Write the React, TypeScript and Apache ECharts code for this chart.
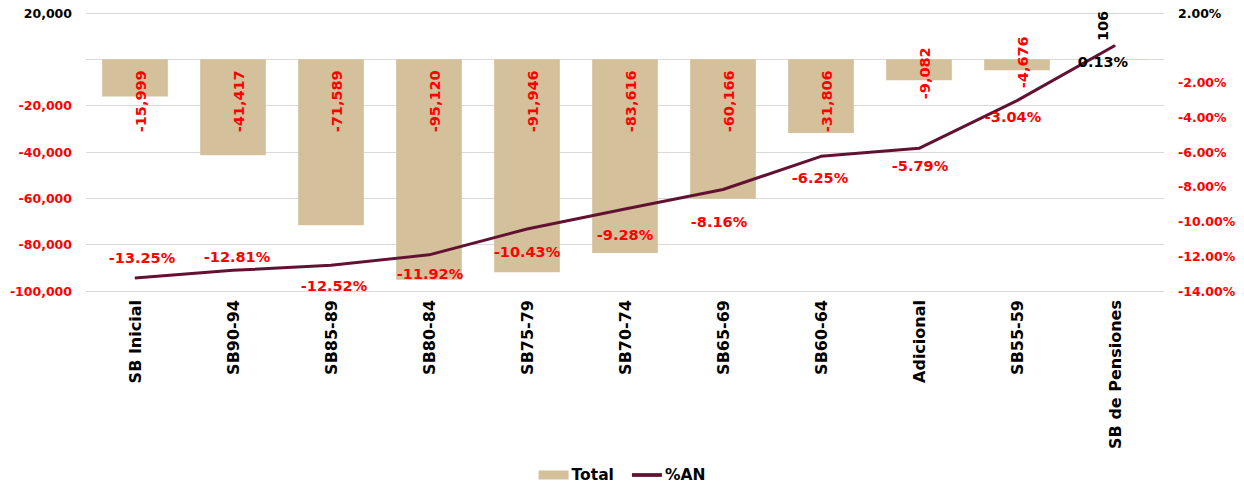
import React, { useEffect, useRef } from 'react';
import * as echarts from 'echarts';

const categories = ['SB Inicial', 'SB90-94', 'SB85-89', 'SB80-84', 'SB75-79', 'SB70-74', 'SB65-69', 'SB60-64', 'Adicional', 'SB55-59', 'SB de Pensiones'];
const totalValues = [-15999, -41417, -71589, -95120, -91946, -83616, -60166, -31806, -9082, -4676, 106];
const anValues = [-13.25, -12.81, -12.52, -11.92, -10.43, -9.28, -8.16, -6.25, -5.79, -3.04, 0.13];
const seriesNames = ['Total', '%AN'];

// label placement tweaks (styling, not data)
const lineLabelOffsets = [[7, -20], [4, -13], [3, 21], [1, 19], [0, 23], [0, 26], [-4, 32], [-1, 22], [1, 18], [-4, 16], [-12, 17]];
// rotated label offsets: [up, right]
const barLabelShift: Record<number, number> = { 8: 23, 9: 34 };

const FONT = 'DejaVu Sans';
const RED = '#FF0000';

export default function App() {
  const ref = useRef<HTMLDivElement>(null);
  useEffect(() => {
    if (!ref.current) return;
    const chart = echarts.init(ref.current, undefined, { renderer: 'svg' });
    const barData = totalValues.map((v, i) => {
      if (v > 0) {
        return {
          value: v,
          label: { position: 'top', align: 'left', color: '#000', distance: 5, offset: [13, -12] },
        };
      }
      const shift = barLabelShift[i];
      return shift ? { value: v, label: { offset: [shift, 6] } } : { value: v };
    });
    const lineData = anValues.map((v, i) => ({
      value: v,
      label: { offset: lineLabelOffsets[i], color: v > 0 ? '#000' : RED },
    }));
    chart.setOption({
      animation: false,
      textStyle: { fontFamily: FONT },
      grid: { left: 86, right: 80, top: 13, bottom: 196, containLabel: false },
      legend: {
        top: 462,
        left: 'center',
        itemWidth: 30,
        itemHeight: 9,
        itemGap: 18,
        textStyle: { fontFamily: FONT, fontWeight: 'bold', fontSize: 15.5, color: '#000', padding: [0, 0, 0, -2] },
        data: [
          { name: seriesNames[0], icon: 'rect' },
          { name: seriesNames[1], icon: 'path://M0,0H32V4H0Z' },
        ],
      },
      xAxis: {
        type: 'category',
        data: categories,
        axisLine: { show: false },
        axisTick: { show: false },
        axisLabel: {
          rotate: 90,
          interval: 0,
          margin: 9,
          fontFamily: FONT,
          fontWeight: 'bold',
          fontSize: 16,
          color: '#000',
        },
      },
      yAxis: [
        {
          type: 'value',
          min: -100000,
          max: 20000,
          interval: 20000,
          axisLine: { show: false },
          axisTick: { show: false },
          splitLine: { lineStyle: { color: '#d9d9d9', width: 1 } },
          axisLabel: {
            margin: 14,
            fontFamily: FONT,
            fontWeight: 'bold',
            fontSize: 12.5,
            color: (v: any) => (Number(v) > 0 ? '#000' : RED),
            formatter: (v: number) => (v === 0 ? '' : v.toLocaleString('en-US')),
          },
        },
        {
          type: 'value',
          min: -14,
          max: 2,
          interval: 2,
          axisLine: { show: false },
          axisTick: { show: false },
          splitLine: { show: false },
          axisLabel: {
            margin: 14,
            fontFamily: FONT,
            fontWeight: 'bold',
            fontSize: 12.5,
            color: (v: any) => (Number(v) > 0 ? '#000' : RED),
            formatter: (v: number) => (v === 0 ? '' : v.toFixed(2) + '%'),
          },
        },
      ],
      series: [
        {
          name: seriesNames[0],
          type: 'bar',
          yAxisIndex: 0,
          barCategoryGap: '33%',
          itemStyle: { color: '#D4C19C' },
          label: {
            show: true,
            position: 'insideTop',
            rotate: 90,
            align: 'right',
            verticalAlign: 'middle',
            distance: 11,
            offset: [0, 6],
            fontFamily: FONT,
            fontWeight: 'bold',
            fontSize: 14.5,
            color: RED,
            formatter: (p: any) => Number(p.value).toLocaleString('en-US'),
          },
          data: barData,
        },
        {
          name: seriesNames[1],
          type: 'line',
          yAxisIndex: 1,
          symbol: 'circle',
          symbolSize: 1,
          showSymbol: true,
          lineStyle: { color: '#621132', width: 3 },
          itemStyle: { color: '#621132' },
          label: {
            show: true,
            position: 'inside',
            fontFamily: FONT,
            fontWeight: 'bold',
            fontSize: 14.5,
            formatter: (p: any) => Number(p.value).toFixed(2) + '%',
          },
          z: 3,
          data: lineData,
        },
      ],
    });
    return () => chart.dispose();
  }, []);
  return <div ref={ref} style={{ position: 'absolute', left: 0, top: 0, width: 1244, height: 487 }} />;
}
